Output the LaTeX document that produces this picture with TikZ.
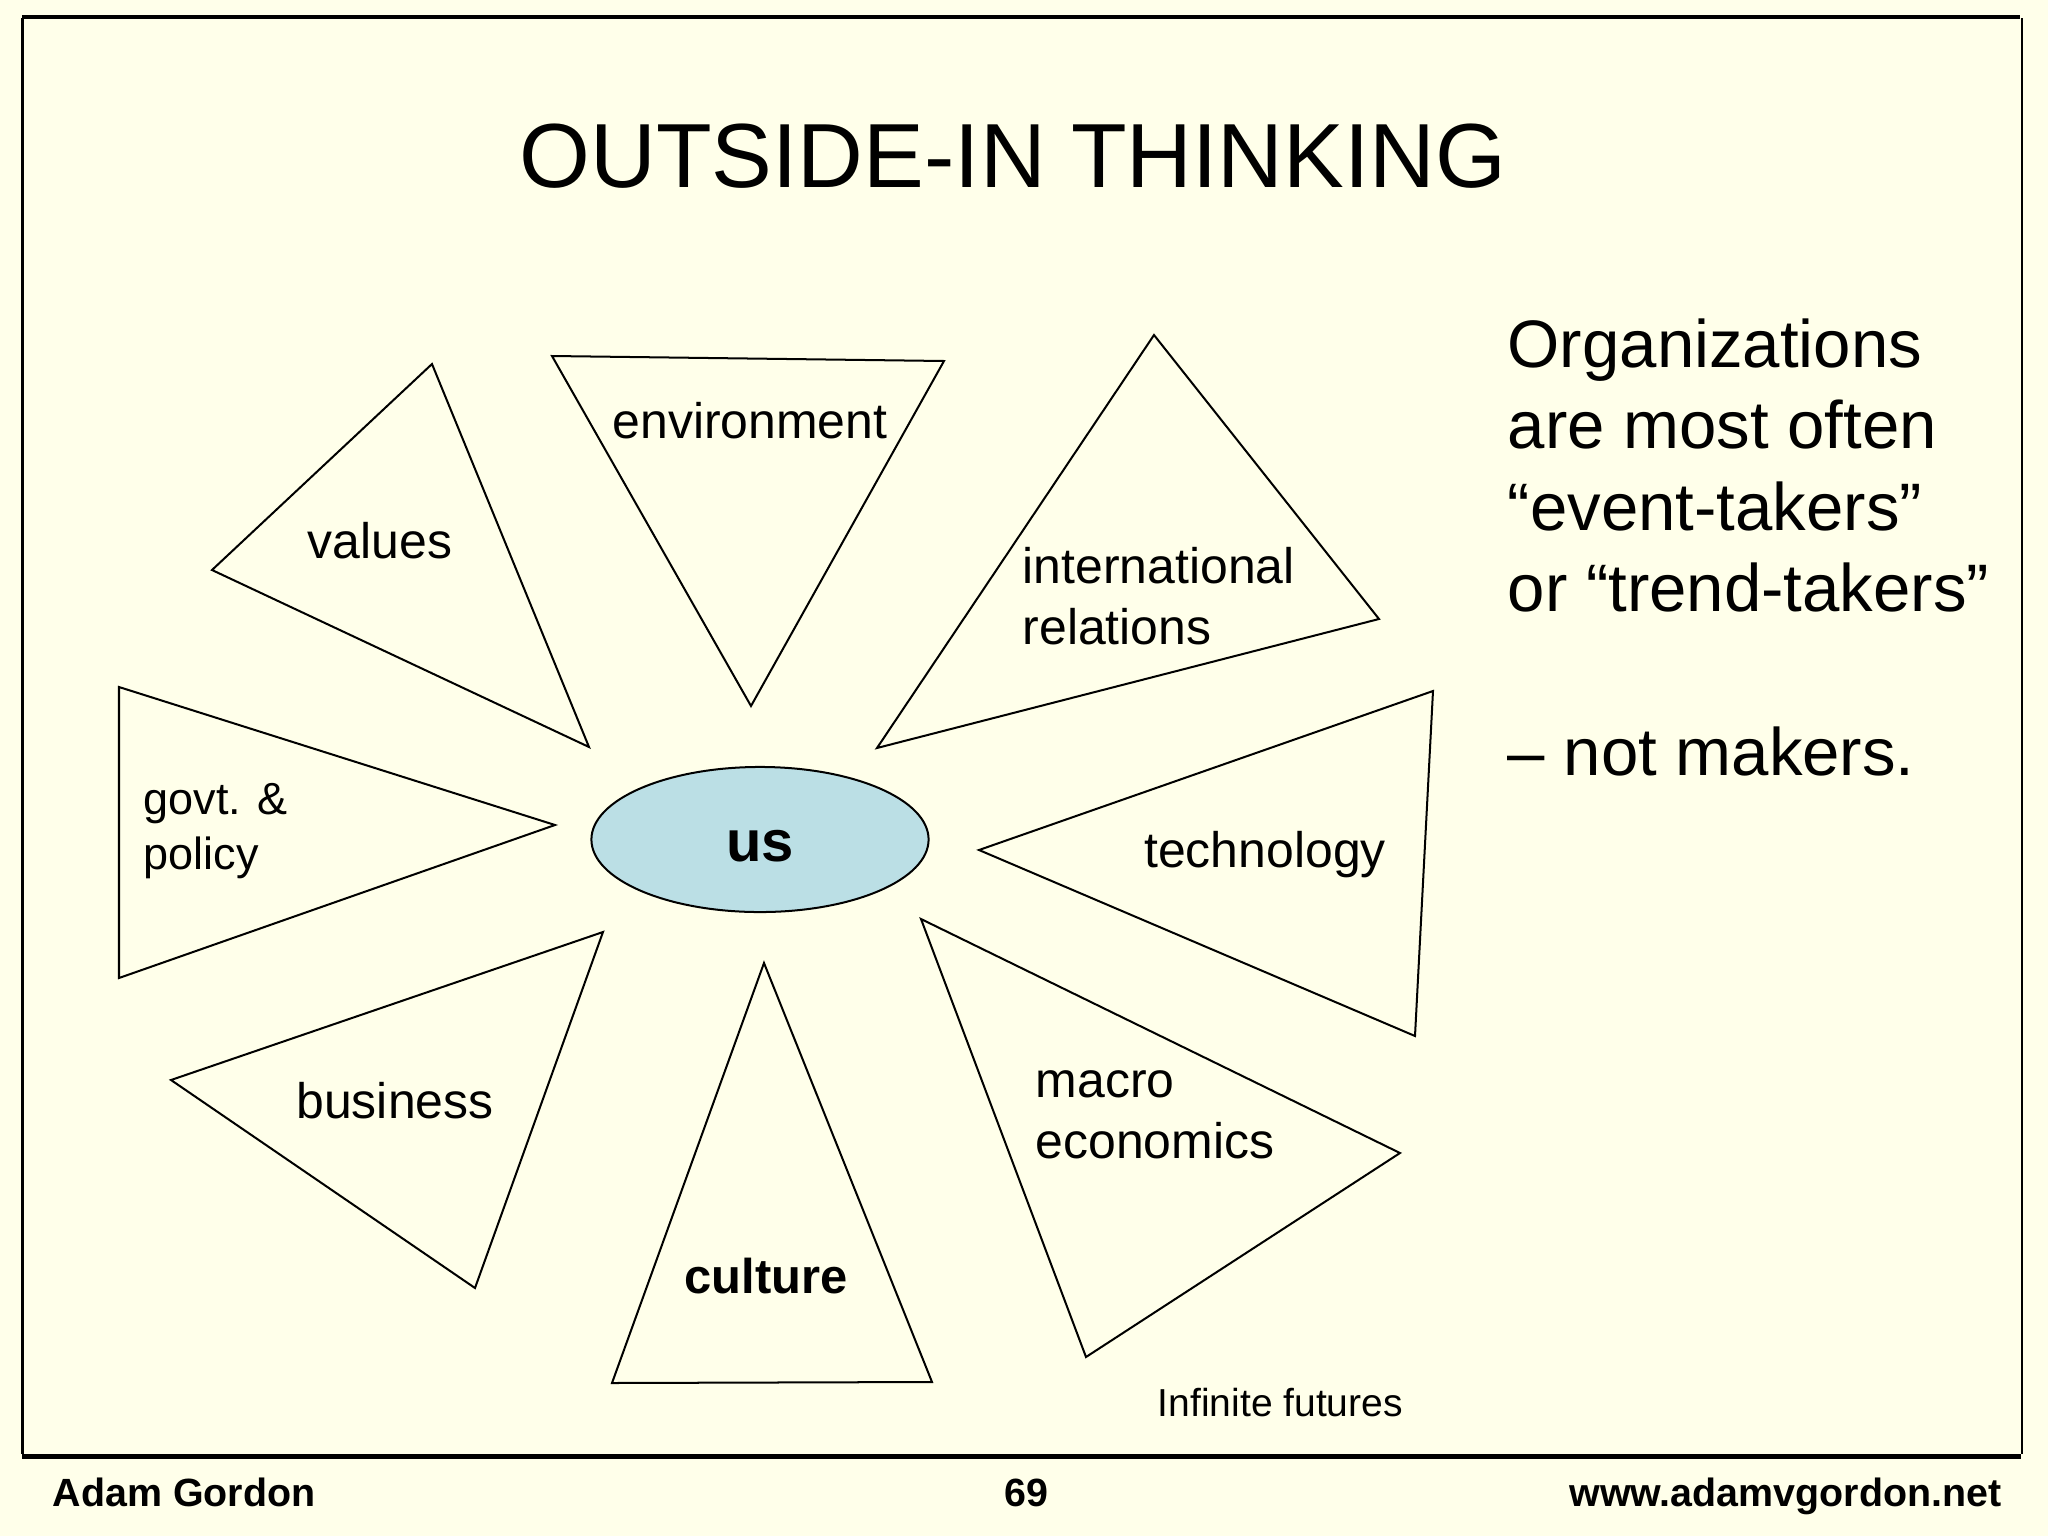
\documentclass[tikz,border=0pt]{standalone}
\usepackage{fontspec}
\setmainfont{Liberation Sans}
\usetikzlibrary{shapes.geometric}

\definecolor{slidebg}{RGB}{255,255,234}
\definecolor{usblue}{RGB}{187,223,229}

\tikzset{
  wedge/.style={draw=black, line width=0.57pt, line join=miter},
  factor/.style={font=\fontsize{14.2}{17.1}\selectfont, inner sep=0pt, anchor=base},
  factorleft/.style={factor, align=left, anchor=base west},
  footer/.style={font=\fontsize{11.2}{13}\selectfont\bfseries, inner sep=0pt},
}

\begin{document}
\begin{tikzpicture}[x=0.01cm, y=-0.01cm]
%Slide background and frame
\fill[slidebg] (0,0) rectangle (2048,1536);
\useasboundingbox (0,0) rectangle (2048,1536);
\draw[line width=0.9pt] (22,17)--(2020,17);
\draw[line width=0.7pt] (22.5,18)--(22.5,1454);
\draw[line width=0.7pt] (2022,18)--(2022,1454);
\draw[line width=1.4pt] (22,1456.5)--(2021,1456.5);

%Title
\node[font=\fontsize{25.9}{31}\selectfont, inner sep=0pt, anchor=base] (title) at (1013,187) {OUTSIDE-IN THINKING};

%Triangles round us
\draw[wedge] (432,364)--(212,570)--(589,747)--cycle;
\draw[wedge] (552,356)--(944,361)--(751,706)--cycle;
\draw[wedge] (1154,335)--(1379,619)--(877,748)--cycle;
\draw[wedge] (119,687)--(555,825)--(119,978)--cycle;
\draw[wedge] (979,850)--(1433,691)--(1415,1036)--cycle;
\draw[wedge] (603,932)--(171,1080)--(475,1288)--cycle;
\draw[wedge] (764,963)--(932,1382)--(612,1383)--cycle;
\draw[wedge] (921,919)--(1400,1153)--(1086,1357)--cycle;

%Labels of the triangles (multi-line ones sit on their last line)
\node[factor] (values) at (380,558) {values};
\node[factor] (environment) at (750,438) {environment};
\node[factorleft] (intl) at (1022,644) {international\\relations};
\node[factorleft, font=\fontsize{12.8}{15.4}\selectfont] (govt) at (143,869) {govt. \&\\policy};
\node[factor] (technology) at (1265,867) {technology};
\node[factor] (business) at (395,1118) {business};
\node[factor, font=\fontsize{13.9}{17}\selectfont\bfseries] (culture) at (766,1293) {culture};
\node[factorleft] (macro) at (1035,1158) {macro\\economics};

%Us in the middle
\node[ellipse, draw=black, line width=0.57pt, fill=usblue, minimum width=3.37cm, minimum height=1.45cm, inner sep=0pt] (us) at (760,839.5) {};
\node[font=\fontsize{16.5}{20}\selectfont\bfseries, inner sep=0pt, anchor=base] (usname) at (760,861) {us};

%Side text
\node[anchor=base west, align=left, inner sep=0pt, font=\fontsize{19.1}{23.2}\selectfont] (takers) at (1507,775) {Organizations\\are most often\\``event-takers''\\or ``trend-takers''\\[23.2pt]-- not makers.};

\node[anchor=base west, inner sep=0pt, font=\fontsize{11.1}{13}\selectfont] (futures) at (1157,1416) {Infinite futures};

%Footer
\node[footer, anchor=base west] (author) at (52,1506) {Adam Gordon};
\node[footer, anchor=base] (page) at (1026,1506) {69};
\node[footer, anchor=base east] (site) at (2002,1506) {www.adamvgordon.net};
\end{tikzpicture}
\end{document}
